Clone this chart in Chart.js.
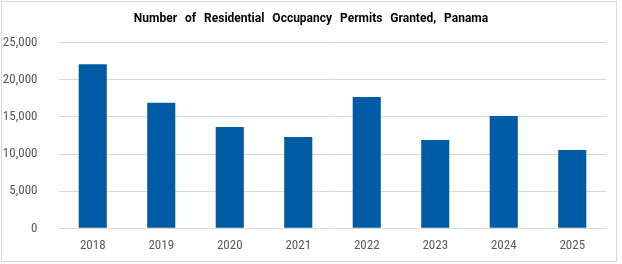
<!DOCTYPE html>
<html>
<head>
<meta charset="utf-8">
<script src="https://cdn.jsdelivr.net/npm/chart.js@4"></script>
<style>
  body { margin: 0; background: #fff; }
  #wrap { position: relative; width: 622px; height: 264px; }
  #permitsChart { display: block; }
  #frame { position: absolute; left: 1px; top: 1px; width: 616px; height: 261px;
           box-sizing: border-box; border: 1px solid #d9d9d9; pointer-events: none; }
</style>
</head>
<body>
<div id="wrap">
  <canvas id="permitsChart" width="622" height="264"></canvas>
  <div id="frame"></div>
</div>
<script>
// Data
const years = ["2018", "2019", "2020", "2021", "2022", "2023", "2024", "2025"];
const permits = [22100, 16900, 13650, 12300, 17700, 11900, 15130, 10550];
const yTicks = [0, 5000, 10000, 15000, 20000, 25000];

const tickFont = "'Liberation Sans Narrow', 'Roboto Condensed', Roboto, sans-serif";

// wider word gaps in the title, like the original
const wordGap = {
  id: "wordGap",
  beforeDraw(chart) { chart.ctx.wordSpacing = "5px"; },
};

new Chart(document.getElementById("permitsChart"), {
  type: "bar",
  data: {
    labels: years,
    datasets: [
      {
        label: "Permits",
        data: permits,
        backgroundColor: "#005BA5",
        barPercentage: 0.41,
        categoryPercentage: 1,
      },
    ],
  },
  plugins: [wordGap],
  options: {
    responsive: false,
    animation: false,
    layout: { padding: { left: 0, right: 0, top: 0, bottom: 11.7 } },
    plugins: {
      legend: { display: false },
      tooltip: { enabled: false },
      title: {
        display: true,
        text: "Number of Residential Occupancy Permits Granted, Panama",
        color: "#000",
        font: { family: "Roboto, sans-serif", size: 12, weight: "bold" },
        padding: { top: 12, bottom: 16.3 },
      },
    },
    scales: {
      x: {
        afterFit: (scale) => { scale.height = 24; },
        grid: { display: false, drawTicks: false },
        border: { display: false },
        ticks: { color: "#595959", font: { family: tickFont, size: 13 }, padding: 9.5 },
      },
      y: {
        min: 0,
        max: 25000,
        afterFit: (scale) => { scale.width = 58.5; },
        afterBuildTicks: (scale) => { scale.ticks = yTicks.map((v) => ({ value: v })); },
        grid: { color: "#d9d9d9", drawTicks: false },
        border: { display: false },
        ticks: {
          color: "#595959",
          font: { family: tickFont, size: 13 },
          padding: 21,
          callback: (v) => v.toLocaleString("en-US"),
        },
      },
      // empty right margin so the title stays centred on the whole frame
      yRight: {
        position: "right",
        afterFit: (scale) => { scale.width = 15.5; },
        grid: { display: false, drawTicks: false },
        border: { display: false },
        ticks: { display: false },
      },
    },
  },
});
</script>
</body>
</html>
